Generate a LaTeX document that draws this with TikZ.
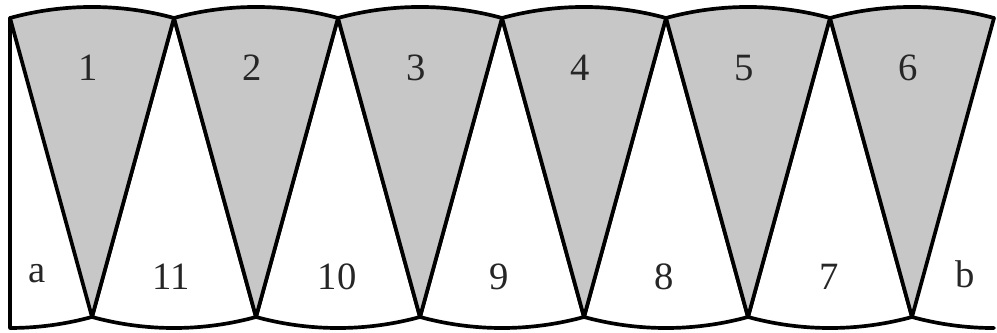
\documentclass[tikz,border=0pt]{standalone}
\usepackage{fontspec}
\setmainfont{Liberation Serif}

\begin{document}
\begin{tikzpicture}[
  x=0.02cm,y=0.02cm,
  edge/.style={draw=black,line width=2.1pt,line join=round,line cap=round},
  shade/.style={edge,fill=black!22},
  blank/.style={edge,fill=white},
  num/.style={font=\fontsize{22}{26}\selectfont,text=black!85},
]
\useasboundingbox (0,0) rectangle (997,333);

% white sectors, opening downwards
\foreach \k in {0,...,4}
  \draw[blank] (174+164*\k,315) -- +(254.665:310.04)
    arc[start angle=254.665,end angle=285.335,radius=310.04] -- cycle;

% half sectors at both ends
\draw[edge] (10,315) -- (10,5)
  arc[start angle=270,end angle=285.335,radius=310.04];
\draw[edge] (912,16) arc[start angle=254.665,end angle=270,radius=310.04];

% gray sectors, opening upwards
\foreach \k in {0,...,5}
  \draw[shade] (92+164*\k,16) -- +(105.335:310.04)
    arc[start angle=105.335,end angle=74.665,radius=310.04] -- cycle;

% labels
\foreach \n in {1,...,6}
  \node[num] (s\n) at (88+164*\n-164,265) {\n};
\foreach \n/\x in {11/171,10/337,9/499,8/664,7/829}
  \node[num] (w\n) at (\x,56) {\n};
\node[num] (wa) at (37,59) {a};
\node[num] (wb) at (965,59) {b};

\end{tikzpicture}
\end{document}
